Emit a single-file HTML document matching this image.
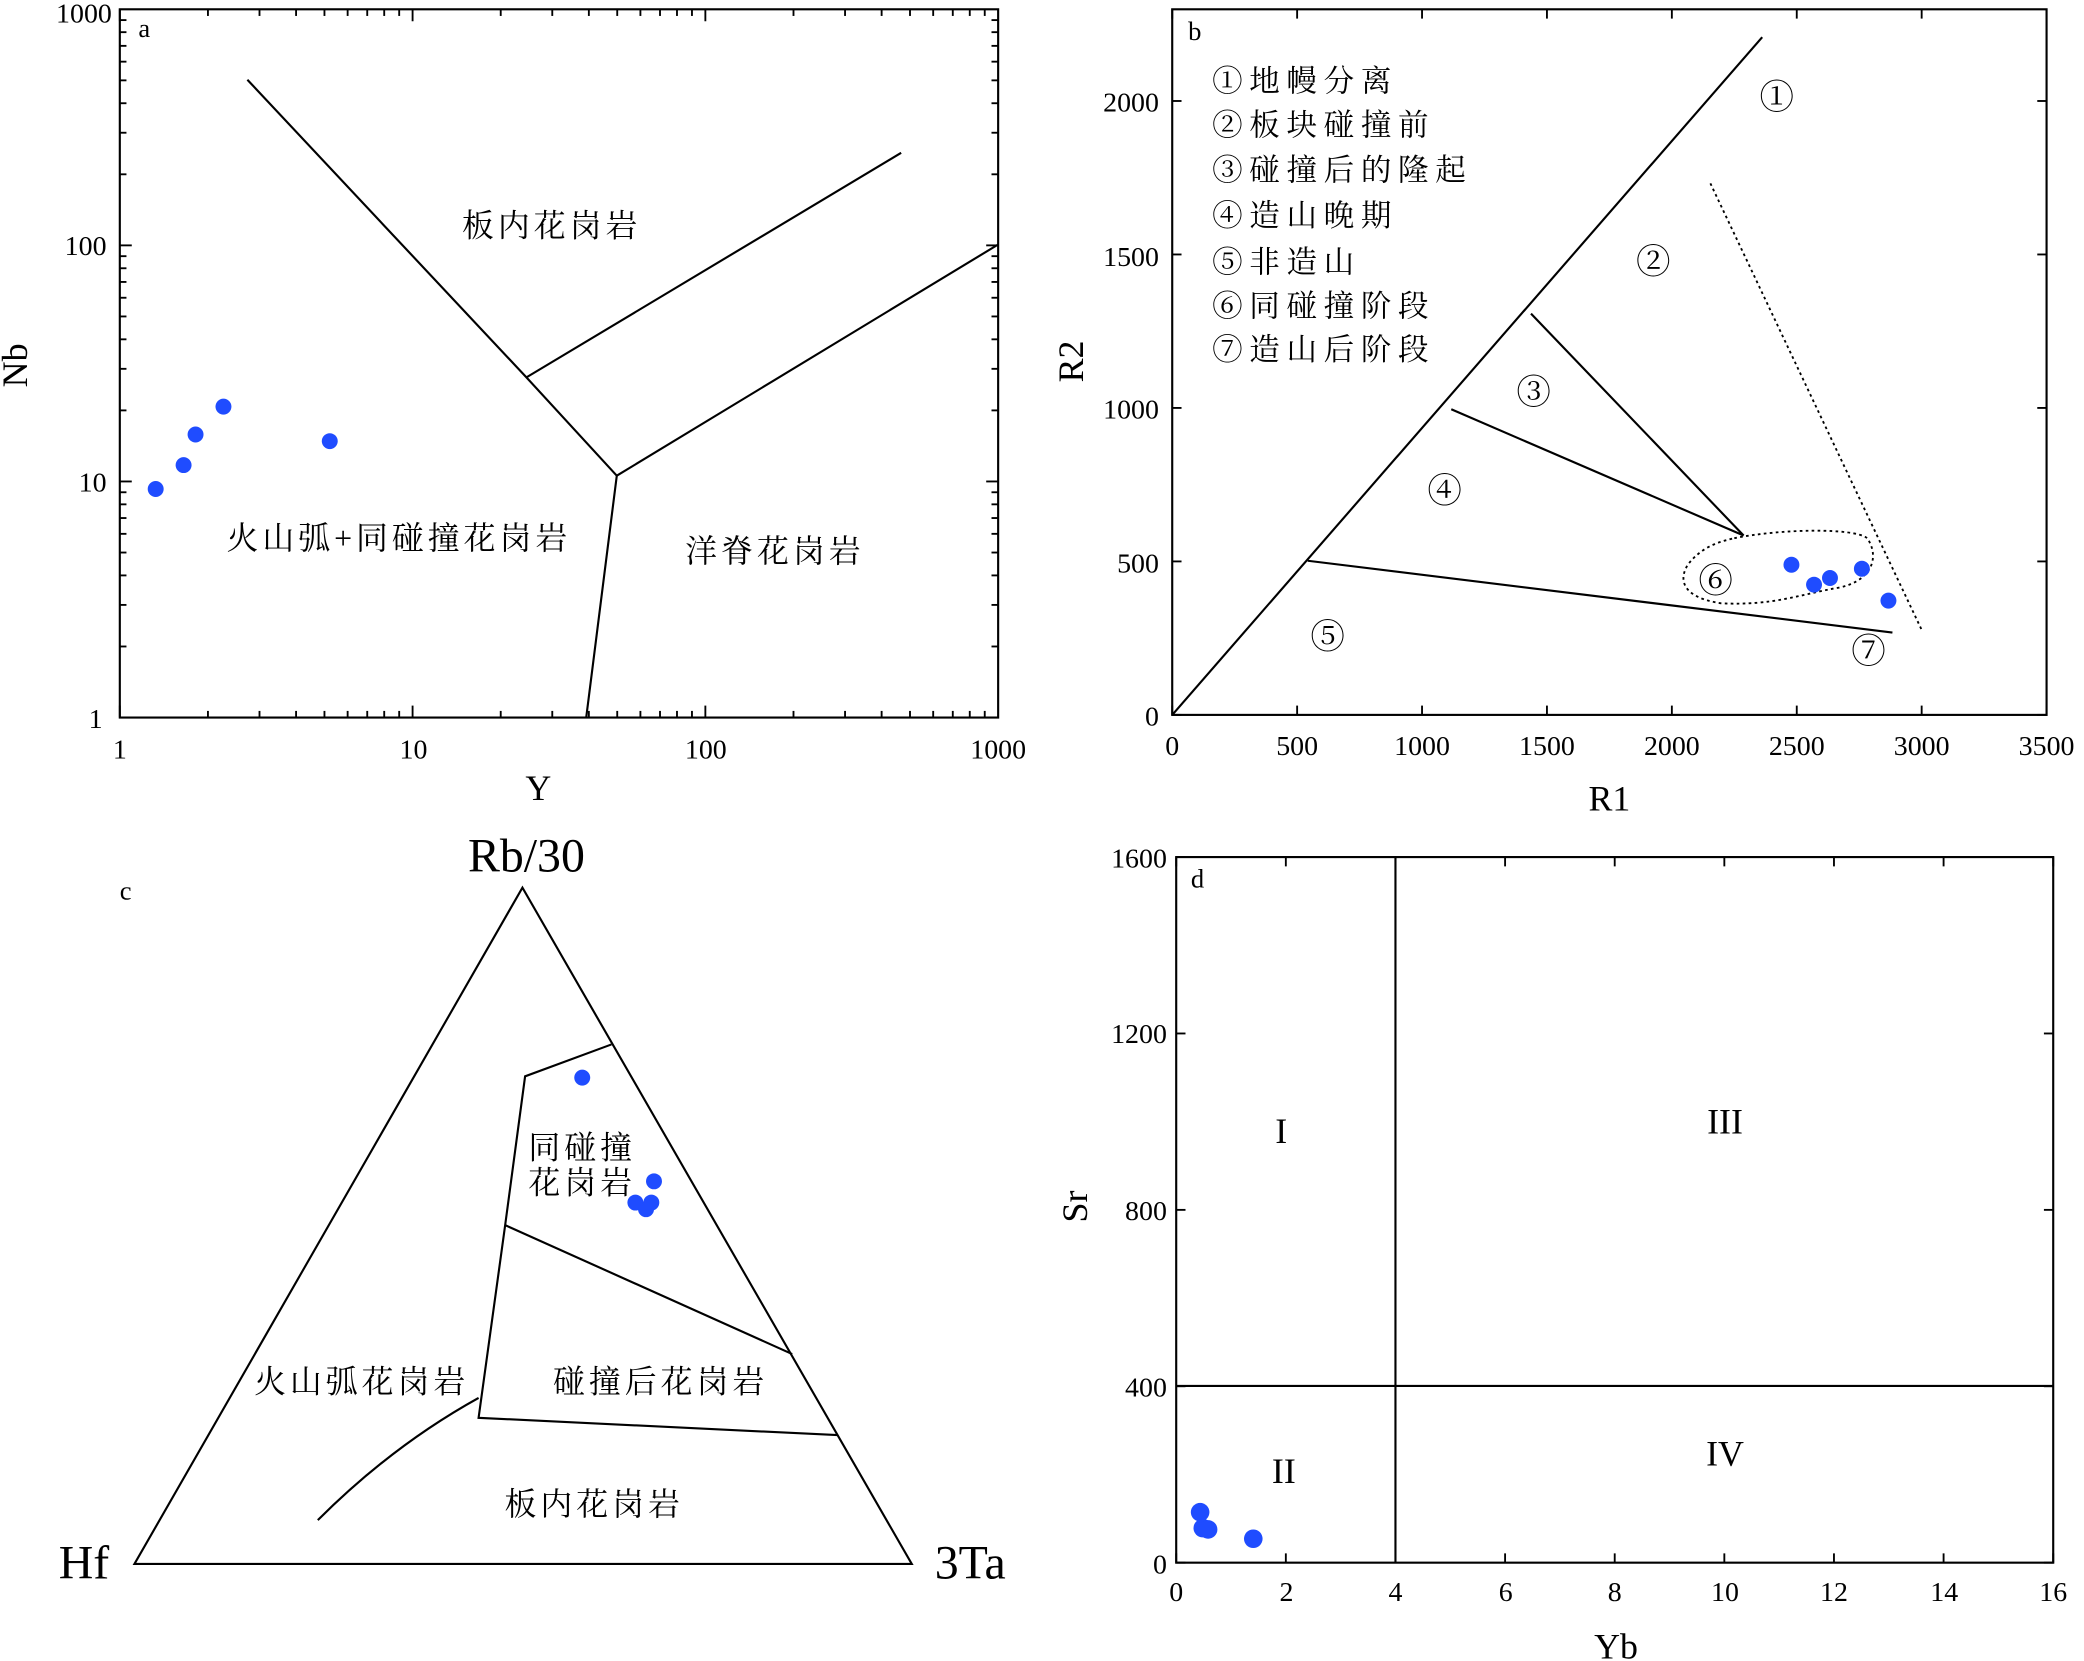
<!DOCTYPE html>
<html><head><meta charset="utf-8"><style>
html,body{margin:0;padding:0;background:#fff;}
svg{display:block;}
text{font-family:"Liberation Serif","Noto Serif CJK SC",serif;fill:#000;}
.cn{font-family:"Liberation Serif","Noto Serif CJK SC","Noto Sans CJK SC",serif;letter-spacing:3px;}
.lg{letter-spacing:5px;}
</style></head><body>
<svg id="s" width="2084" height="1661" viewBox="0 0 1568 1250" xmlns="http://www.w3.org/2000/svg">
<g fill="none" stroke="#000" stroke-width="1.6">
<rect x="90" y="7" width="661" height="533"/>
<polyline points="186,60 396,284 464,358 441,540"/>
<line x1="396" y1="284" x2="678" y2="115"/>
<line x1="464" y1="358" x2="751" y2="184"/>
<rect x="882" y="7" width="658" height="531"/>
<line x1="882" y1="538" x2="1326" y2="28"/>
<line x1="1152" y1="236" x2="1312" y2="403"/>
<line x1="1092" y1="308" x2="1312" y2="403"/>
<line x1="984" y1="422" x2="1424" y2="476"/>
<line x1="1287" y1="138" x2="1446" y2="474" stroke-dasharray="2,2.5" stroke-width="1.4"/>
<path d="M1305,405 C1340,398 1395,397 1405,405 C1414,418 1410,436 1385,442 C1355,447 1335,456 1295,454 C1268,450 1262,438 1270,425 C1280,412 1292,408 1305,405 Z" stroke-dasharray="2,2.5" stroke-width="1.4"/>
<polygon points="393,668 101,1177 686,1177"/>
<polyline points="460,786 395,810 380,922 360,1067 630,1080"/>
<line x1="380" y1="922" x2="596" y2="1019"/>
<path d="M239,1144 Q295,1088 360,1052"/>
<rect x="885" y="645" width="660" height="531"/>
<line x1="1050" y1="645" x2="1050" y2="1176"/>
<line x1="885" y1="1043" x2="1545" y2="1043"/>
</g>
<g id="ticks" stroke="#000" stroke-width="1.4"></g>
<g fill="#1f4cff">
<circle cx="117" cy="368" r="6"/><circle cx="138" cy="350" r="6"/><circle cx="147" cy="327" r="6"/><circle cx="168" cy="306" r="6"/><circle cx="248" cy="332" r="6"/>
<circle cx="1348" cy="425" r="6"/><circle cx="1365" cy="440" r="6"/><circle cx="1377" cy="435" r="6"/><circle cx="1401" cy="428" r="6"/><circle cx="1421" cy="452" r="6"/>
<circle cx="438" cy="811" r="6"/><circle cx="492" cy="889" r="6"/><circle cx="478" cy="905" r="6"/><circle cx="486" cy="910" r="6"/><circle cx="490" cy="905" r="6"/>
<circle cx="903" cy="1138" r="7"/><circle cx="905" cy="1150" r="7"/><circle cx="909" cy="1151" r="7"/><circle cx="943" cy="1158" r="7"/>
</g>
<g font-size="20">
<text x="104" y="28">a</text><text x="894" y="30">b</text><text x="90" y="677">c</text><text x="896" y="668">d</text>
</g>
<g font-size="21" text-anchor="end">
<text x="84" y="17">1000</text><text x="80" y="192">100</text><text x="80" y="370">10</text><text x="77" y="548">1</text>
<text x="872" y="84">2000</text><text x="872" y="200">1500</text><text x="872" y="315">1000</text><text x="872" y="431">500</text><text x="872" y="546">0</text>
<text x="878" y="653">1600</text><text x="878" y="785">1200</text><text x="878" y="918">800</text><text x="878" y="1051">400</text><text x="878" y="1184">0</text>
</g>
<g font-size="21" text-anchor="middle">
<text x="90" y="571">1</text><text x="311" y="571">10</text><text x="531" y="571">100</text><text x="751" y="571">1000</text>
<text x="882" y="568">0</text><text x="976" y="568">500</text><text x="1070" y="568">1000</text><text x="1164" y="568">1500</text><text x="1258" y="568">2000</text><text x="1352" y="568">2500</text><text x="1446" y="568">3000</text><text x="1540" y="568">3500</text>
<text x="885" y="1205">0</text><text x="968" y="1205">2</text><text x="1050" y="1205">4</text><text x="1133" y="1205">6</text><text x="1215" y="1205">8</text><text x="1298" y="1205">10</text><text x="1380" y="1205">12</text><text x="1463" y="1205">14</text><text x="1545" y="1205">16</text>
</g>
<g font-size="27" text-anchor="middle">
<text x="405" y="602">Y</text><text x="1211" y="610">R1</text><text x="1216" y="1248">Yb</text>
<text transform="translate(20,275) rotate(-90)">Nb</text>
<text transform="translate(815,272) rotate(-90)">R2</text>
<text transform="translate(818,908) rotate(-90)">Sr</text>
<text x="396" y="656" font-size="36">Rb/30</text>
<text x="63" y="1188" font-size="36">Hf</text>
<text x="730" y="1188" font-size="36">3Ta</text>
<text x="964" y="860">I</text><text x="1298" y="853">III</text><text x="966" y="1116">II</text><text x="1298" y="1103">IV</text>
</g>
<g class="cn" font-size="24" text-anchor="middle">
<text x="415" y="178">板内花岗岩</text>
<text x="300" y="413">火山弧+同碰撞花岗岩</text>
<text x="583" y="423">洋脊花岗岩</text>
<text x="438" y="872">同碰撞</text><text x="438" y="898">花岗岩</text>
<text x="272" y="1048">火山弧花岗岩</text>
<text x="497" y="1048">碰撞后花岗岩</text>
<text x="447" y="1140">板内花岗岩</text>
</g>
<g class="cn lg" font-size="23">
<text x="912" y="69">①地幔分离</text>
<text x="912" y="102">②板块碰撞前</text>
<text x="912" y="136">③碰撞后的隆起</text>
<text x="912" y="170">④造山晚期</text>
<text x="912" y="205">⑤非造山</text>
<text x="912" y="238">⑥同碰撞阶段</text>
<text x="912" y="271">⑦造山后阶段</text>
</g>
<g font-size="26" text-anchor="middle">
<text x="1337" y="82">①</text><text x="1244" y="206">②</text><text x="1154" y="304">③</text><text x="1087" y="378">④</text><text x="999" y="488">⑤</text><text x="1291" y="446">⑥</text><text x="1406" y="499">⑦</text>
</g>
</svg>
<script>
var g=document.getElementById('ticks'),ns='http://www.w3.org/2000/svg';
function L(a,b,c,d){var l=document.createElementNS(ns,'line');l.setAttribute('x1',a);l.setAttribute('y1',b);l.setAttribute('x2',c);l.setAttribute('y2',d);g.appendChild(l);}
for(var dec=0;dec<3;dec++){for(var m=1;m<10;m++){var f=Math.log10(m)+dec;var len=m==1?9:5;
var x=90+f*220.33;L(x,540,x,540-len);L(x,7,x,7+len);
var y=540-f*177.67;L(90,y,90+len,y);L(751,y,751-len,y);}}
for(var i=0;i<=7;i++){var x=882+i*94;L(x,538,x,531);L(x,7,x,14);}
for(var i=0;i<=4;i++){var y=538-i*115.5;L(882,y,889,y);L(1540,y,1533,y);}
for(var i=0;i<=8;i++){var x=885+i*82.5;L(x,1176,x,1169);L(x,645,x,652);}
for(var i=0;i<=4;i++){var y=1176-i*132.75;L(885,y,892,y);L(1545,y,1538,y);}
</script>
</body></html>
